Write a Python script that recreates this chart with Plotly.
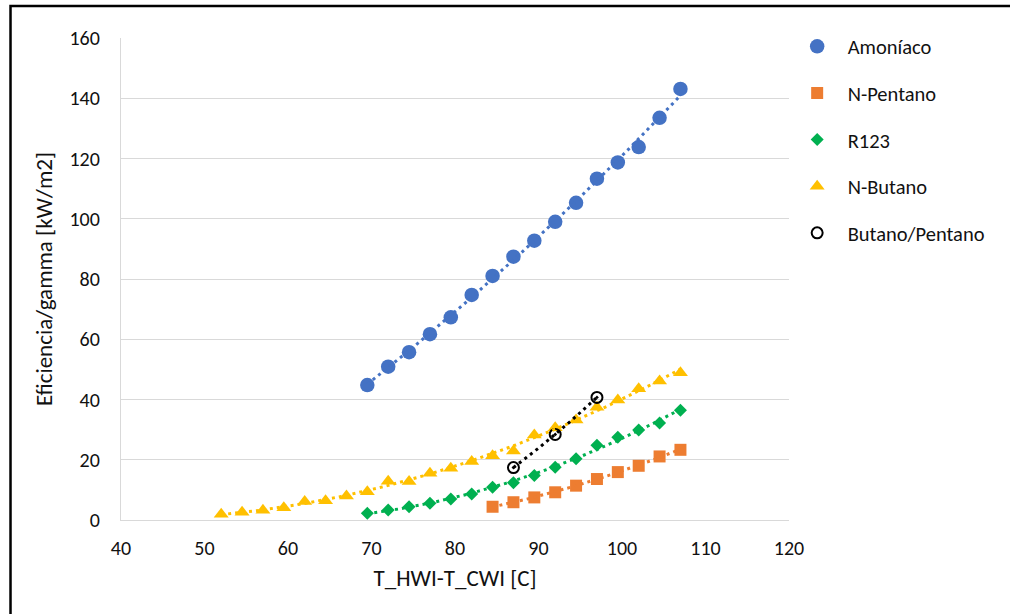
import numpy as np
import plotly.graph_objects as go

# ---- data ----
x_amoniaco = [69.5, 72, 74.5, 77, 79.5, 82, 84.5, 87, 89.5, 92, 94.5, 97, 99.5, 102, 104.5, 107]
y_amoniaco = [44.8, 50.9, 55.7, 61.7, 67.3, 74.7, 81.0, 87.4, 92.7, 99.0, 105.3, 113.3, 118.7, 123.8, 133.5, 143.1]

x_pentano = [84.5, 87, 89.5, 92, 94.5, 97, 99.5, 102, 104.5, 107]
y_pentano = [4.4, 5.9, 7.5, 9.2, 11.4, 13.6, 15.9, 18.0, 21.1, 23.3]

x_r123 = [69.5, 72, 74.5, 77, 79.5, 82, 84.5, 87, 89.5, 92, 94.5, 97, 99.5, 102, 104.5, 107]
y_r123 = [2.2, 3.3, 4.4, 5.6, 7.0, 8.6, 10.9, 12.4, 14.8, 17.5, 20.3, 24.8, 27.5, 29.9, 32.2, 36.4]

x_butano = [52, 54.5, 57, 59.5, 62, 64.5, 67, 69.5, 72, 74.5, 77, 79.5, 82, 84.5, 87, 89.5,
            92, 94.5, 97, 99.5, 102, 104.5, 107]
y_butano = [1.9, 2.6, 3.2, 4.1, 6.1, 6.4, 8.0, 9.4, 12.9, 12.8, 15.5, 17.2, 19.4, 21.3, 22.9, 28.2,
            30.6, 33.2, 37.4, 39.8, 43.6, 46.1, 48.9]

x_mezcla = [87, 92, 97]
y_mezcla = [17.4, 28.4, 40.7]

x_ticks = [40, 50, 60, 70, 80, 90, 100, 110, 120]
y_ticks = [0, 20, 40, 60, 80, 100, 120, 140, 160]

FONT = "Carlito, Lato, sans-serif"
TXT = "#111111"

series = [
    ("Amoníaco", x_amoniaco, y_amoniaco, "#4472C4",
     dict(symbol="circle", size=14.5)),
    ("N-Pentano", x_pentano, y_pentano, "#ED7D31",
     dict(symbol="square", size=12)),
    ("R123", x_r123, y_r123, "#00B050",
     dict(symbol="diamond", size=10)),
    ("N-Butano", x_butano, y_butano, "#FFC000",
     dict(symbol="triangle-up", size=13)),
]

fig = go.Figure()

# markers
for name, xs, ys, col, mk in series:
    fig.add_trace(go.Scatter(
        x=xs, y=ys, mode="markers", name=name, legendgroup=name,
        marker=dict(color=col, line=dict(width=0), **mk),
    ))

# blend: open circle with centre dot on the plot, plain open circle in the legend
fig.add_trace(go.Scatter(
    x=x_mezcla, y=y_mezcla, mode="markers", name="Butano/Pentano",
    legendgroup="Butano/Pentano", showlegend=False,
    marker=dict(symbol="circle-open-dot", size=11, color="black", line=dict(width=2)),
))
fig.add_trace(go.Scatter(
    x=[None], y=[None], mode="markers", name="Butano/Pentano",
    legendgroup="Butano/Pentano",
    marker=dict(symbol="circle-open", size=11, color="black", line=dict(width=2)),
))

# dotted second-order trendlines
trend = [(xs, ys, col) for (_, xs, ys, col, _) in series] + [(x_mezcla, y_mezcla, "black")]
for xs, ys, col in trend:
    c = np.polyfit(xs, ys, 2)
    xf = np.linspace(min(xs), max(xs), 200)
    fig.add_trace(go.Scatter(
        x=xf, y=np.polyval(c, xf), mode="lines", showlegend=False, hoverinfo="skip",
        line=dict(color=col, width=3, dash="3px,4px"),
    ))

# chart frame
fig.add_shape(type="rect", xref="paper", yref="paper",
              x0=-0.1654, x1=1.35, y0=-0.23, y1=1.0664,
              line=dict(color="black", width=2.5), fillcolor="rgba(0,0,0,0)")

fig.update_layout(
    width=1010, height=614,
    margin=dict(l=121, r=221, t=38, b=94),
    paper_bgcolor="white", plot_bgcolor="white",
    font=dict(family=FONT, size=20, color=TXT),
    showlegend=True,
    legend=dict(x=0.9965, y=1.024, xanchor="left", yanchor="top",
                font=dict(family=FONT, size=20.5, color=TXT),
                itemwidth=51, tracegroupgap=17, bgcolor="rgba(0,0,0,0)"),
    xaxis=dict(range=[40, 120], tickvals=x_ticks, ticktext=[str(v) for v in x_ticks],
               showgrid=False, zeroline=False, showline=True, linecolor="#D9D9D9", linewidth=1.3,
               ticks="", ticklabelstandoff=10,
               title=dict(text="T_HWI-T_CWI [C]", font=dict(size=23), standoff=10)),
    yaxis=dict(range=[0, 160], tickvals=y_ticks, ticktext=[str(v) for v in y_ticks],
               showgrid=True, gridcolor="#D9D9D9", gridwidth=1.3, zeroline=False,
               showline=True, linecolor="#D9D9D9", linewidth=1.3,
               ticks="", ticklabelstandoff=16,
               title=dict(text="Eficiencia/gamma [kW/m2]", font=dict(size=23), standoff=10)),
)

fig.write_html("out.html")
